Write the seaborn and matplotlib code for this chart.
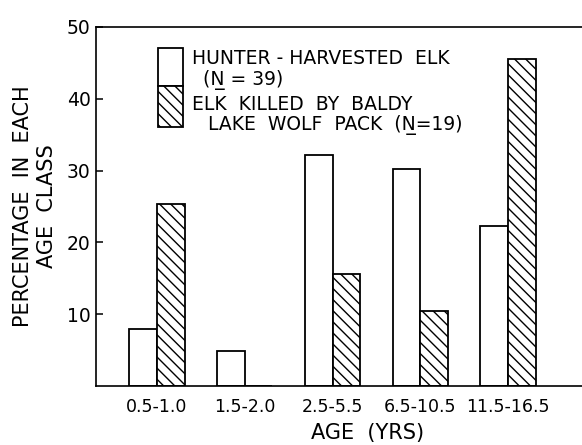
import matplotlib
matplotlib.use("Agg")
import matplotlib.pyplot as plt
import seaborn as sns
import pandas as pd
from matplotlib.patches import Rectangle

# ---- data ----
age_classes = ["0.5-1.0", "1.5-2.0", "2.5-5.5", "6.5-10.5", "11.5-16.5"]
hunter_pct = [7.9, 4.9, 32.2, 30.2, 22.3]
wolf_pct = [25.4, 0.0, 15.6, 10.4, 45.6]
groups = ["HUNTER-HARVESTED ELK (N=39)", "ELK KILLED BY BALDY LAKE WOLF PACK (N=19)"]
y_ticks = [10, 20, 30, 40, 50]

df = pd.DataFrame({
    "age": age_classes * 2,
    "pct": hunter_pct + wolf_pct,
    "group": [groups[0]] * len(age_classes) + [groups[1]] * len(age_classes),
})

sns.set_theme(style="white")
plt.rcParams["font.family"] = ["DejaVu Sans"]
plt.rcParams["hatch.linewidth"] = 1.0
plt.rcParams["hatch.color"] = "black"

HATCH = "\\\\\\"

W, H = 582, 445
fig = plt.figure(figsize=(W / 100, H / 100), dpi=100)
ax_l, ax_r, ax_t, ax_b = 96, 588, 27, 386
ax = fig.add_axes([ax_l / W, 1 - ax_b / H, (ax_r - ax_l) / W, (ax_b - ax_t) / H])

sns.barplot(data=df, x="age", y="pct", hue="group", order=age_classes,
            hue_order=groups, palette=["white", "white"], saturation=1,
            edgecolor="black", linewidth=1.3, width=0.63, legend=False,
            errorbar=None, ax=ax)

for bar in ax.containers[1]:
    bar.set_hatch(HATCH)

ax.set_xlim(-0.695, 4.91)
ax.set_ylim(0, 50)
ax.set_yticks(y_ticks)
ax.set_yticklabels([str(t) for t in y_ticks])

for s in ["left", "top", "bottom"]:
    ax.spines[s].set_visible(True)
    ax.spines[s].set_color("black")
    ax.spines[s].set_linewidth(1.2)
ax.spines["right"].set_visible(False)

ax.tick_params(axis="y", direction="in", length=5, width=1.1, color="black",
               pad=4, labelsize=13.5, left=True)
ax.tick_params(axis="x", length=0, pad=9, labelsize=12.5)
for lab in ax.get_xticklabels() + ax.get_yticklabels():
    lab.set_color("black")

ax.set_xlabel("AGE  (YRS)", fontsize=15, color="black")
ax.xaxis.set_label_coords(0.551, -0.103)
ax.set_ylabel("PERCENTAGE  IN  EACH\nAGE  CLASS", fontsize=15, color="black",
              linespacing=1.2)
ax.yaxis.set_label_coords(-0.08, 0.5)

# ---- legend (stacked boxes) ----
bx, bw = 0.126, 0.0508
ax.add_patch(Rectangle((bx, 0.836), bw, 0.9415 - 0.836, transform=ax.transAxes,
                       facecolor="white", edgecolor="black", linewidth=1.3,
                       clip_on=False))
ax.add_patch(Rectangle((bx, 0.7214), bw, 0.836 - 0.7214, transform=ax.transAxes,
                       facecolor="white", edgecolor="black", linewidth=1.3,
                       hatch=HATCH, clip_on=False))
tkw = dict(transform=ax.transAxes, fontsize=13.5, color="black", va="center", ha="left")
ax.text(0.195, 0.911, "HUNTER - HARVESTED  ELK", **tkw)
ax.text(0.2175, 0.852, "(N\u0332 = 39)", **tkw)
ax.text(0.195, 0.7855, "ELK  KILLED  BY  BALDY", **tkw)
ax.text(0.2276, 0.727, "LAKE  WOLF  PACK  (N\u0332=19)", **tkw)

fig.savefig("out.png", dpi=100, facecolor="white")
